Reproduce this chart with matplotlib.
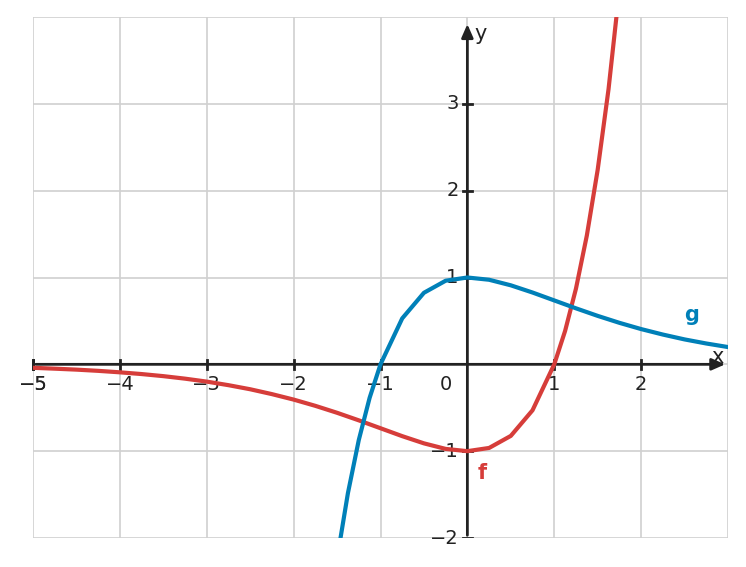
import matplotlib
matplotlib.use("Agg")
import matplotlib.pyplot as plt

fx = [-5,-4.75,-4.5,-4.25,-4,-3.75,-3.5,-3.25,-3,-2.75,-2.5,-2.25,-2,-1.75,-1.5,-1.25,-1,-0.75,-0.5,-0.25,0,0.25,0.5,0.75,1,1.125,1.25,1.375,1.5,1.625,1.75]
fy = [-0.040,-0.050,-0.061,-0.075,-0.092,-0.112,-0.136,-0.165,-0.199,-0.240,-0.287,-0.343,-0.406,-0.478,-0.558,-0.645,-0.736,-0.827,-0.910,-0.974,-1,-0.963,-0.824,-0.529,0,0.385,0.872,1.483,2.241,3.17,4.316]
gx = [-1.5,-1.375,-1.25,-1.125,-1,-0.75,-0.5,-0.25,0,0.25,0.5,0.75,1,1.25,1.5,1.75,2,2.25,2.5,2.75,3]
gy = [-2.241,-1.483,-0.872,-0.385,0,0.529,0.824,0.963,1,0.974,0.910,0.827,0.736,0.645,0.558,0.478,0.406,0.343,0.287,0.240,0.199]
xticks = [-5,-4,-3,-2,-1,1,2]
yticks = [-2,-1,1,2,3]

RED = "#d63d3a"; BLUE = "#0080b8"; INK = "#222222"
fig = plt.figure(figsize=(7.46,5.67), dpi=100)
ax = fig.add_axes([33/746, 29/567, 695/746, 521/567])
ax.set_xlim(-5,3); ax.set_ylim(-2,4)
for v in range(-5,4):
    ax.axvline(v, color="#d0d0d0", lw=1.2, zorder=0)
for v in range(-2,5):
    ax.axhline(v, color="#d0d0d0", lw=1.2, zorder=0)
for s in ax.spines.values(): s.set_visible(False)
ax.set_xticks([]); ax.set_yticks([])
ax.annotate("", xy=(3.0,0), xytext=(-5,0), arrowprops=dict(arrowstyle="-|>,head_length=0.8,head_width=0.35", color=INK, lw=2), annotation_clip=False)
ax.annotate("", xy=(0,3.95), xytext=(0,-2), arrowprops=dict(arrowstyle="-|>,head_length=0.8,head_width=0.35", color=INK, lw=2), annotation_clip=False)
for t in xticks + [-5]:
    ax.plot([t,t],[-0.05,0.05], color=INK, lw=2, clip_on=False)
    ax.text(t, -0.12, "\u2212%d" % -t if t < 0 else str(t), ha="center", va="top", fontsize=14, color=INK)
for t in yticks:
    ax.plot([-0.05,0.05],[t,t], color=INK, lw=2)
    ax.text(-0.1, t, "\u2212%d" % -t if t < 0 else str(t), ha="right", va="center", fontsize=14, color=INK)
ax.text(-0.18,-0.12,"0",ha="right",va="top",fontsize=14,color=INK)
ax.text(2.88,0.08,"x",ha="center",va="center",fontsize=15,color=INK)
ax.text(0.08,3.8,"y",ha="left",va="center",fontsize=15,color=INK)
ax.plot(fx, fy, color=RED, lw=3, zorder=3)
ax.plot(gx, gy, color=BLUE, lw=3, zorder=3)
ax.text(0.17,-1.25,"f",color=RED,fontsize=15,fontweight="bold",ha="center",va="center")
ax.text(2.58,0.57,"g",color=BLUE,fontsize=15,fontweight="bold",ha="center",va="center")
fig.savefig("out.png", dpi=100)
